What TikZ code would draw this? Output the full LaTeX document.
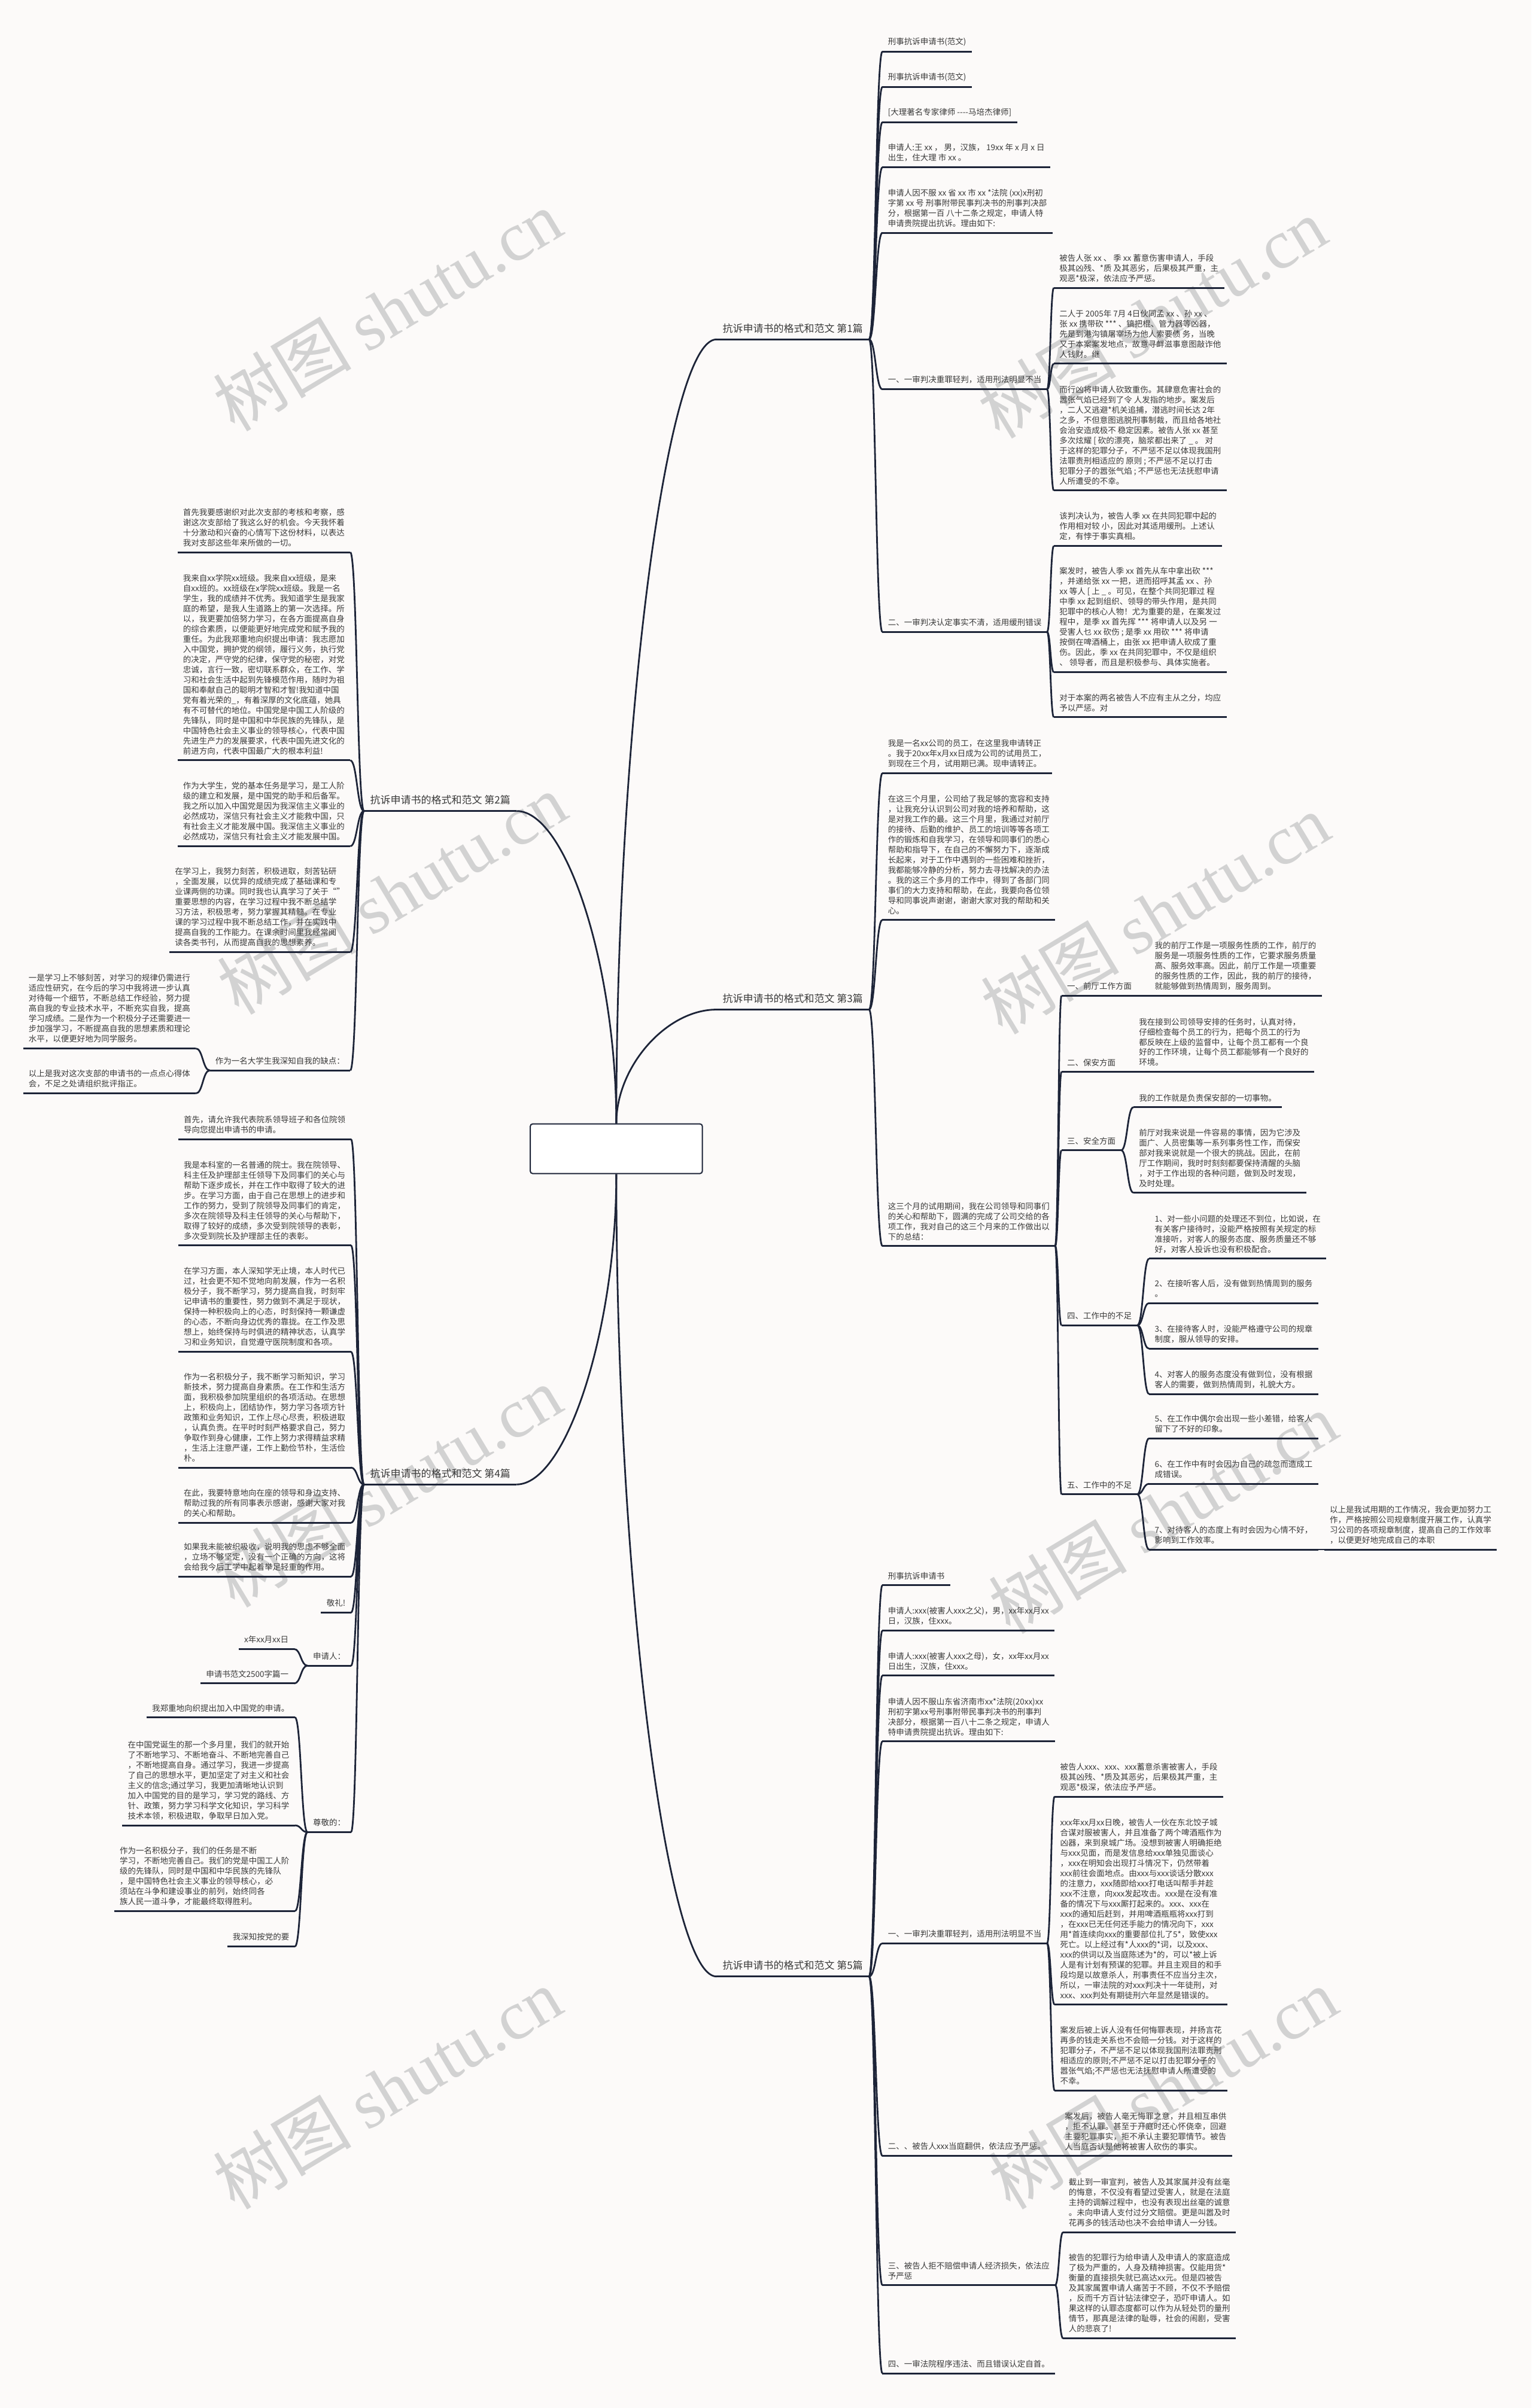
\documentclass[tikz,border=0pt]{standalone}
\usepackage{fontspec}
\setmainfont{Noto Sans CJK SC}
\newfontfamily\wmlatin{Liberation Serif}
\usetikzlibrary{calc,positioning}
\definecolor{inkline}{HTML}{1D2438}
\definecolor{inktext}{HTML}{3A3A3A}
\definecolor{paper}{HTML}{FCFAF9}
\definecolor{wmgray}{HTML}{D2D2D2}

% curved connector between two underline ends
\newcommand{\linkto}[2]{%
  \draw[conn] let \p1=(#1), \p2=(#2) in
    (\p1) .. controls ({0.5*\x1+0.5*\x2},\y1) and ({0.5*\x1+0.5*\x2},\y2) .. (\p2);}
% connector out of the central box
\newcommand{\rootlink}[2]{%
  \draw[conn] let \p1=(#1), \p2=(#2) in
    (\p1) .. controls (\x1,{0.5*\y1+0.5*\y2}) and ({0.5*\x1+0.5*\x2},\y2) .. (\p2);}

\begin{document}
\begin{tikzpicture}[x=1.2839pt, y=-1.2839pt,
  conn/.style={draw=inkline, line width=1.4pt},
  uline/.style={draw=inkline, line width=1.5pt},
  leaf/.style={inner xsep=4.5pt, inner ysep=4.5pt, align=left, text=inktext,
    font=\fontsize{6.75}{8.5}\selectfont,
    append after command={(\tikzlastnode.south west) edge[uline] (\tikzlastnode.south east)}},
  topic/.style={leaf, inner xsep=5pt, inner ysep=5pt, font=\fontsize{8.5}{10.5}\selectfont},
  wm/.style={text=wmgray, font=\fontsize{58}{62}\selectfont, rotate=31, inner sep=0pt}]

\useasboundingbox[fill=paper] (0,0) rectangle (997,1568);

% watermarks
\foreach \p in {(252,202),(750,207),(255,582),(752,595),(252,968),(757,985),(252,1360),(757,1360)}
  \node[wm] at \p {树图 {\wmlatin shutu.cn}};

% centre
\node[draw=inkline, line width=1pt, rounded corners=2pt, fill=white, text=white,
  minimum width=143.8pt, minimum height=41.5pt, align=center,
  font=\fontsize{10.5}{13}\selectfont] (root) at (401.2,748) {抗诉申请书的格式和范文(\\实用5篇)};

\node[topic, anchor=south west] (r1) at (466.4,221) {抗诉申请书的格式和范文 第1篇};
\node[topic, anchor=south west] (r3) at (466.4,657.4) {抗诉申请书的格式和范文 第3篇};
\node[topic, anchor=south west] (r5) at (466.4,1287) {抗诉申请书的格式和范文 第5篇};
\node[topic, anchor=south east] (l2) at (336.3,528.1) {抗诉申请书的格式和范文 第2篇};
\node[topic, anchor=south east] (l4) at (336.3,966.6) {抗诉申请书的格式和范文 第4篇};

\rootlink{root.north}{r1.south west}
\rootlink{root.north}{r3.south west}
\rootlink{root.north}{l2.south east}
\rootlink{root.south}{l4.south east}
\rootlink{root.south}{r5.south west}

% ---- 第1篇
\node[leaf, anchor=south west] (r1a) at (574.4,33.6) {刑事抗诉申请书(范文)};
\node[leaf, anchor=south west] (r1b) at (574.4,56.6) {刑事抗诉申请书(范文)};
\node[leaf, anchor=south west] (r1c) at (574.4,79.6) {[大理著名专家律师 {-}{-}{-}{-}马培杰律师]};
\node[leaf, anchor=south west] (r1d) at (574.4,109) {申请人:王 xx ， 男，汉族， 19xx 年 x 月 x 日\\出生，住大理 市 xx 。};
\node[leaf, anchor=south west] (r1e) at (574.4,151.6) {申请人因不服 xx 省 xx 市 xx *法院 (xx)x刑初\\字第 xx 号 刑事附带民事判决书的刑事判决部\\分，根据第一百 八十二条之规定，申请人特\\申请贵院提出抗诉。理由如下:};
\node[leaf, anchor=south west] (r1f) at (574.4,253.5) {一、一审判决重罪轻判，适用刑法明显不当};
\node[leaf, anchor=south west] (r1g) at (574.4,411.5) {二、一审判决认定事实不清，适用缓刑错误};

\node[leaf, anchor=south west] (r1f1) at (686,187.4) {被告人张 xx 、 季 xx 蓄意伤害申请人，手段\\极其凶残、*质 及其恶劣，后果极其严重，主\\观恶*极深，依法应予严惩。};
\node[leaf, anchor=south west] (r1f2) at (686,236.8) {二人于 2005年 7月 4日伙同孟 xx 、孙 xx 、\\张 xx 携带砍 *** 、镐把棍、管力器等凶器，\\先是到港沟镇屠宰场为他人索要债 务，当晚\\又于本案案发地点，故意寻衅滋事意图敲诈他\\人钱财。继};
\node[leaf, anchor=south west] (r1f3) at (686,319.4) {而行凶将申请人砍致重伤。其肆意危害社会的\\嚣张气焰已经到了令 人发指的地步。案发后\\，二人又逃避*机关追捕，潜逃时间长达 2年\\之多，不但意图逃脱刑事制裁，而且给各地社\\会治安造成极不 稳定因素。被告人张 xx 甚至\\多次炫耀 [ 砍的漂亮，脑浆都出来了 \_ 。 对\\于这样的犯罪分子，不严惩不足以体现我国刑\\法罪责刑相适应的 原则 ; 不严惩不足以打击\\犯罪分子的嚣张气焰 ; 不严惩也无法抚慰申请\\ 人所遭受的不幸。};
\node[leaf, anchor=south west] (r1g1) at (686,355.5) {该判决认为，被告人季 xx 在共同犯罪中起的\\作用相对较 小，因此对其适用缓刑。上述认\\定，有悖于事实真相。};
\node[leaf, anchor=south west] (r1g2) at (686,437.7) {案发时，被告人季 xx 首先从车中拿出砍 ***\\，并递给张 xx 一把，进而招呼其孟 xx 、孙\\xx 等人 [ 上 \_ 。可见，在整个共同犯罪过 程\\中季 xx 起到组织、领导的带头作用，是共同\\犯罪中的核心人物！尤为重要的是，在案发过\\程中，是季 xx 首先挥 *** 将申请人以及另 一\\受害人乜 xx 砍伤 ; 是季 xx 用砍 *** 将申请\\按倒在啤酒桶上，由张 xx 把申请人砍成了重\\伤。因此，季 xx 在共同犯罪中，不仅是组织\\、 领导者，而且是积极参与、具体实施者。};
\node[leaf, anchor=south west] (r1g3) at (686,467) {对于本案的两名被告人不应有主从之分，均应\\予以严惩。对};

\foreach \c in {r1a,r1b,r1c,r1d,r1e,r1f,r1g} {\linkto{r1.south east}{\c.south west}}
\foreach \c in {r1f1,r1f2,r1f3} {\linkto{r1f.south east}{\c.south west}}
\foreach \c in {r1g1,r1g2,r1g3} {\linkto{r1g.south east}{\c.south west}}

% ---- 第3篇
\node[leaf, anchor=south west] (r3a) at (574.4,503.5) {我是一名xx公司的员工，在这里我申请转正\\。我于20xx年x月xx日成为公司的试用员工，\\到现在三个月，试用期已满。现申请转正。};
\node[leaf, anchor=south west] (r3b) at (574.4,599) {在这三个月里，公司给了我足够的宽容和支持\\，让我充分认识到公司对我的培养和帮助，这\\是对我工作的最。这三个月里，我通过对前厅\\的接待、后勤的维护、员工的培训等等各项工\\作的锻炼和自我学习，在领导和同事们的悉心\\帮助和指导下，在自己的不懈努力下，逐渐成\\长起来，对于工作中遇到的一些困难和挫折，\\我都能够冷静的分析，努力去寻找解决的办法\\。我的这三个多月的工作中，得到了各部门同\\事们的大力支持和帮助，在此，我要向各位领\\导和同事说声谢谢，谢谢大家对我的帮助和关\\心。};
\node[leaf, anchor=south west] (r3c) at (574.4,811.3) {这三个月的试用期间，我在公司领导和同事们\\的关心和帮助下，圆满的完成了公司交给的各\\项工作，我对自己的这三个月来的工作做出以\\下的总结：};

\node[leaf, anchor=south west] (r3c1) at (691,648.4) {一、前厅工作方面};
\node[leaf, anchor=south west] (r3c2) at (691,697.9) {二、保安方面};
\node[leaf, anchor=south west] (r3c3) at (691,749) {三、安全方面};
\node[leaf, anchor=south west] (r3c4) at (691,863) {四、工作中的不足};
\node[leaf, anchor=south west] (r3c5) at (691,973) {五、工作中的不足};

\node[leaf, anchor=south west] (r3c1a) at (748,648.4) {我的前厅工作是一项服务性质的工作，前厅的\\服务是一项服务性质的工作，它要求服务质量\\高、服务效率高。因此，前厅工作是一项重要\\的服务性质的工作，因此，我的前厅的接待，\\就能够做到热情周到，服务周到。};
\node[leaf, anchor=south west] (r3c2a) at (737.8,697.9) {我在接到公司领导安排的任务时，认真对待，\\仔细检查每个员工的行为，把每个员工的行为\\都反映在上级的监督中，让每个员工都有一个良\\好的工作环境，让每个员工都能够有一个良好的\\环境。};
\node[leaf, anchor=south west] (r3c3a) at (737.8,721) {我的工作就是负责保安部的一切事物。};
\node[leaf, anchor=south west] (r3c3b) at (737.8,776.6) {前厅对我来说是一件容易的事情，因为它涉及\\面广、人员密集等一系列事务性工作，而保安\\部对我来说就是一个很大的挑战。因此，在前\\厅工作期间，我时时刻刻都要保持清醒的头脑\\，对于工作出现的各种问题，做到及时发现，\\及时处理。};
\node[leaf, anchor=south west] (r3c4a) at (748,819.6) {1、对一些小问题的处理还不到位，比如说，在\\有关客户接待时，没能严格按照有关规定的标\\准接听，对客人的服务态度、服务质量还不够\\好，对客人投诉也没有积极配合。};
\node[leaf, anchor=south west] (r3c4b) at (748,848.5) {2、在接听客人后，没有做到热情周到的服务\\。};
\node[leaf, anchor=south west] (r3c4c) at (748,878.2) {3、在接待客人时，没能严格遵守公司的规章\\制度，服从领导的安排。};
\node[leaf, anchor=south west] (r3c4d) at (748,907.7) {4、对客人的服务态度没有做到位，没有根据\\客人的需要，做到热情周到，礼貌大方。};
\node[leaf, anchor=south west] (r3c5a) at (748,936.6) {5、在工作中偶尔会出现一些小差错，给客人\\留下了不好的印象。};
\node[leaf, anchor=south west] (r3c5b) at (748,966.2) {6、在工作中有时会因为自己的疏忽而造成工\\成错误。};
\node[leaf, anchor=south west] (r3c5c) at (748,1009) {7、对待客人的态度上有时会因为心情不好，\\影响到工作效率。};
\node[leaf, anchor=south west] (r3d) at (862,1009) {以上是我试用期的工作情况，我会更加努力工\\作，严格按照公司规章制度开展工作，认真学\\习公司的各项规章制度，提高自己的工作效率\\，以便更好地完成自己的本职};

\foreach \c in {r3a,r3b,r3c} {\linkto{r3.south east}{\c.south west}}
\foreach \c in {r3c1,r3c2,r3c3,r3c4,r3c5} {\linkto{r3c.south east}{\c.south west}}
\linkto{r3c1.south east}{r3c1a.south west}
\linkto{r3c2.south east}{r3c2a.south west}
\foreach \c in {r3c3a,r3c3b} {\linkto{r3c3.south east}{\c.south west}}
\foreach \c in {r3c4a,r3c4b,r3c4c,r3c4d} {\linkto{r3c4.south east}{\c.south west}}
\foreach \c in {r3c5a,r3c5b,r3c5c} {\linkto{r3c5.south east}{\c.south west}}
\linkto{r3c5c.south east}{r3d.south west}

% ---- 第5篇
\node[leaf, anchor=south west] (r5a) at (574.4,1032.2) {刑事抗诉申请书};
\node[leaf, anchor=south west] (r5b) at (574.4,1061.8) {申请人:xxx(被害人xxx之父)，男，xx年xx月xx\\日，汉族，住xxx。};
\node[leaf, anchor=south west] (r5c) at (574.4,1091.1) {申请人:xxx(被害人xxx之母)，女，xx年xx月xx\\日出生，汉族，住xxx。};
\node[leaf, anchor=south west] (r5d) at (574.4,1133.9) {申请人因不服山东省济南市xx*法院(20xx)xx\\刑初字第xx号刑事附带民事判决书的刑事判\\决部分，根据第一百八十二条之规定，申请人\\特申请贵院提出抗诉。理由如下:};
\node[leaf, anchor=south west] (r5e) at (574.4,1265.5) {一、一审判决重罪轻判，适用刑法明显不当};
\node[leaf, anchor=south west] (r5f) at (574.4,1403.8) {二、、被告人xxx当庭翻供，依法应予严惩。};
\node[leaf, anchor=south west] (r5g) at (574.4,1488) {三、被告人拒不赔偿申请人经济损失，依法应\\予严惩};
\node[leaf, anchor=south west] (r5h) at (574.4,1545.4) {四、一审法院程序违法、而且错误认定自首。};

\node[leaf, anchor=south west] (r5e1) at (686.5,1169.9) {被告人xxx、xxx、xxx蓄意杀害被害人，手段\\极其凶残、*质及其恶劣，后果极其严重，主\\观恶*极深，依法应予严惩。};
\node[leaf, anchor=south west] (r5e2) at (686.5,1305.3) {xxx年xx月xx日晚，被告人一伙在东北饺子城\\合谋对服被害人，并且准备了两个啤酒瓶作为\\凶器，来到泉城广场。没想到被害人明确拒绝\\与xxx见面，而是发信息给xxx单独见面谈心\\，xxx在明知会出现打斗情况下，仍然带着\\xxx前往会面地点。由xxx与xxx谈话分散xxx\\的注意力，xxx随即给xxx打电话叫帮手并趁\\xxx不注意，向xxx发起攻击。xxx是在没有准\\备的情况下与xxx厮打起来的。xxx、xxx在\\xxx的通知后赶到，并用啤酒瓶瓶将xxx打到\\，在xxx已无任何还手能力的情况向下，xxx\\用*首连续向xxx的重要部位扎了5*，致使xxx\\死亡。以上经过有*人xxx的*词，以及xxx、\\xxx的供词以及当庭陈述为*的，可以*被上诉\\人是有计划有预谋的犯罪。并且主观目的和手\\段均是以故意杀人，刑事责任不应当分主次，\\所以，一审法院的对xxx判决十一年徒刑，对\\xxx、xxx判处有期徒刑六年显然是错误的。};
\node[leaf, anchor=south west] (r5e3) at (686.5,1361.2) {案发后被上诉人没有任何悔罪表现，并扬言花\\再多的钱走关系也不会赔一分钱。对于这样的\\犯罪分子，不严惩不足以体现我国刑法罪责刑\\相适应的原则;不严惩不足以打击犯罪分子的\\嚣张气焰;不严惩也无法抚慰申请人所遭受的\\不幸。};
\node[leaf, anchor=south west] (r5f1) at (689.5,1403.8) {案发后，被告人毫无悔罪之意，并且相互串供\\，拒不认罪。甚至于开庭时还心怀侥幸，回避\\主要犯罪事实，拒不承认主要犯罪情节。被告\\人当庭否认是他将被害人砍伤的事实。};
\node[leaf, anchor=south west] (r5g1) at (692,1453.6) {截止到一审宣判，被告人及其家属并没有丝毫\\的悔意，不仅没有看望过受害人，就是在法庭\\主持的调解过程中，也没有表现出丝毫的诚意\\。未向申请人支付过分文赔偿。更是叫嚣及时\\花再多的钱活动也决不会给申请人一分钱。};
\node[leaf, anchor=south west] (r5g2) at (692,1522.6) {被告的犯罪行为给申请人及申请人的家庭造成\\了极为严重的，人身及精神损害。仅能用货*\\衡量的直接损失就已高达xx元。但是四被告\\及其家属置申请人痛苦于不顾，不仅不予赔偿\\，反而千方百计钻法律空子，恐吓申请人。如\\果这样的认罪态度都可以作为从轻处罚的量刑\\情节，那真是法律的耻辱，社会的闹剧，受害\\人的悲哀了!};

\foreach \c in {r5a,r5b,r5c,r5d,r5e,r5f,r5g,r5h} {\linkto{r5.south east}{\c.south west}}
\foreach \c in {r5e1,r5e2,r5e3} {\linkto{r5e.south east}{\c.south west}}
\linkto{r5f.south east}{r5f1.south west}
\foreach \c in {r5g1,r5g2} {\linkto{r5g.south east}{\c.south west}}

% ---- 第2篇
\node[leaf, anchor=south east] (l2a) at (228,359.6) {首先我要感谢织对此次支部的考核和考察，感\\谢这次支部给了我这么好的机会。今天我怀着\\十分激动和兴奋的心情写下这份材料，以表达\\我对支部这些年来所做的一切。};
\node[leaf, anchor=south east] (l2b) at (228,495.1) {我来自xx学院xx班级。我来自xx班级，是来\\自xx班的。xx班级在x学院xx班级。我是一名\\学生，我的成绩并不优秀。我知道学生是我家\\庭的希望，是我人生道路上的第一次选择。所\\以，我更要加倍努力学习，在各方面提高自身\\的综合素质，以便能更好地完成党和赋予我的\\重任。为此我郑重地向织提出申请：我志愿加\\入中国党，拥护党的纲领，履行义务，执行党\\的决定，严守党的纪律，保守党的秘密，对党\\忠诚，言行一致，密切联系群众，在工作、学\\习和社会生活中起到先锋模范作用，随时为祖\\国和奉献自己的聪明才智和才智!我知道中国\\党有着光荣的\_，有着深厚的文化底蕴，她具\\有不可替代的地位。中国党是中国工人阶级的\\先锋队，同时是中国和中华民族的先锋队，是\\中国特色社会主义事业的领导核心，代表中国\\先进生产力的发展要求，代表中国先进文化的\\前进方向，代表中国最广大的根本利益!};
\node[leaf, anchor=south east] (l2c) at (228,551) {作为大学生，党的基本任务是学习，是工人阶\\级的建立和发展，是中国党的助手和后备军。\\我之所以加入中国党是因为我深信主义事业的\\必然成功，深信只有社会主义才能救中国，只\\有社会主义才能发展中国。我深信主义事业的\\必然成功，深信只有社会主义才能发展中国。};
\node[leaf, anchor=south east] (l2d) at (228,620) {在学习上，我努力刻苦，积极进取，刻苦钻研\\，全面发展，以优异的成绩完成了基础课和专\\业课两侧的功课。同时我也认真学习了关于“”\\重要思想的内容，在学习过程中我不断总结学\\习方法，积极思考，努力掌握其精髓。在专业\\课的学习过程中我不断总结工作，并在实践中\\提高自我的工作能力。在课余时间里我经常阅\\读各类书刊，从而提高自我的思想素养。};
\node[leaf, anchor=south east] (l2e) at (228,697) {作为一名大学生我深知自我的缺点：};
\node[leaf, anchor=south east] (l2e1) at (127.5,682.7) {一是学习上不够刻苦，对学习的规律仍需进行\\适应性研究，在今后的学习中我将进一步认真\\对待每一个细节，不断总结工作经验，努力提\\高自我的专业技术水平，不断充实自我，提高\\学习成绩。二是作为一个积极分子还需要进一\\步加强学习，不断提高自我的思想素质和理论\\水平，以便更好地为同学服务。};
\node[leaf, anchor=south east] (l2e2) at (127.5,712) {以上是我对这次支部的申请书的一点点心得体\\会，不足之处请组织批评指正。};

\foreach \c in {l2a,l2b,l2c,l2d,l2e} {\linkto{l2.south west}{\c.south east}}
\foreach \c in {l2e1,l2e2} {\linkto{l2e.south west}{\c.south east}}

% ---- 第4篇
\node[leaf, anchor=south east] (l4a) at (228.5,741.8) {首先，请允许我代表院系领导班子和各位院领\\导向您提出申请书的申请。};
\node[leaf, anchor=south east] (l4b) at (228.5,811) {我是本科室的一名普通的院士。我在院领导、\\科主任及护理部主任领导下及同事们的关心与\\帮助下逐步成长，并在工作中取得了较大的进\\步。在学习方面，由于自己在思想上的进步和\\工作的努力，受到了院领导及同事们的肯定，\\多次在院领导及科主任领导的关心与帮助下，\\取得了较好的成绩，多次受到院领导的表彰，\\多次受到院长及护理部主任的表彰。};
\node[leaf, anchor=south east] (l4c) at (228.5,880.3) {在学习方面，本人深知学无止境，本人时代已\\过，社会更不知不觉地向前发展，作为一名积\\极分子，我不断学习，努力提高自我，时刻牢\\记申请书的重要性，努力做到不满足于现状，\\保持一种积极向上的心态，时刻保持一颗谦虚\\的心态，不断向身边优秀的靠拢。在工作及思\\想上，始终保持与时俱进的精神状态，认真学\\习和业务知识，自觉遵守医院制度和各项。};
\node[leaf, anchor=south east] (l4d) at (228.5,955.6) {作为一名积极分子，我不断学习新知识，学习\\新技术，努力提高自身素质。在工作和生活方\\面，我积极参加院里组织的各项活动。在思想\\上，积极向上，团结协作，努力学习各项方针\\政策和业务知识，工作上尽心尽责，积极进取\\，认真负责。在平时时刻严格要求自己，努力\\争取作到身心健康，工作上努力求得精益求精\\，生活上注意严谨，工作上勤俭节朴，生活俭\\朴。};
\node[leaf, anchor=south east] (l4e) at (228.5,991.5) {在此，我要特意地向在座的领导和身边支持、\\帮助过我的所有同事表示感谢，感谢大家对我\\的关心和帮助。};
\node[leaf, anchor=south east] (l4f) at (228.5,1026.6) {如果我未能被织吸收，说明我的思虑不够全面\\，立场不够坚定，没有一个正确的方向，这将\\会给我今后工学中起着举足轻重的作用。};
\node[leaf, anchor=south east] (l4g) at (228.5,1050) {敬礼!};
\node[leaf, anchor=south east] (l4h) at (228.5,1084.6) {申请人：};
\node[leaf, anchor=south east] (l4i) at (228.5,1193) {尊敬的：};

\node[leaf, anchor=south east] (l4h1) at (191.5,1073.8) {x年xx月xx日};
\node[leaf, anchor=south east] (l4h2) at (191.5,1096.2) {申请书范文2500字篇一};
\node[leaf, anchor=south east] (l4i1) at (192,1118.3) {我郑重地向织提出加入中国党的申请。};
\node[leaf, anchor=south east] (l4i2) at (192,1188.6) {在中国党诞生的那一个多月里，我们的就开始\\了不断地学习、不断地奋斗、不断地完善自己\\，不断地提高自身。通过学习，我进一步提高\\了自己的思想水平，更加坚定了对主义和社会\\主义的信念;通过学习，我更加清晰地认识到\\加入中国党的目的是学习，学习党的路线、方\\针、政策，努力学习科学文化知识，学习科学\\技术本领，积极进取，争取早日加入党。};
\node[leaf, anchor=south east] (l4i3) at (192,1244.4) {作为一名积极分子，我们的任务是不断\\学习，不断地完善自己。我们的党是中国工人阶\\级的先锋队，同时是中国和中华民族的先锋队\\，是中国特色社会主义事业的领导核心，必\\须站在斗争和建设事业的前列，始终同各\\族人民一道斗争，才能最终取得胜利。};
\node[leaf, anchor=south east] (l4i4) at (192,1267.4) {我深知按党的要};

\foreach \c in {l4a,l4b,l4c,l4d,l4e,l4f,l4g,l4h,l4i} {\linkto{l4.south west}{\c.south east}}
\foreach \c in {l4h1,l4h2} {\linkto{l4h.south west}{\c.south east}}
\foreach \c in {l4i1,l4i2,l4i3,l4i4} {\linkto{l4i.south west}{\c.south east}}
\end{tikzpicture}
\end{document}
